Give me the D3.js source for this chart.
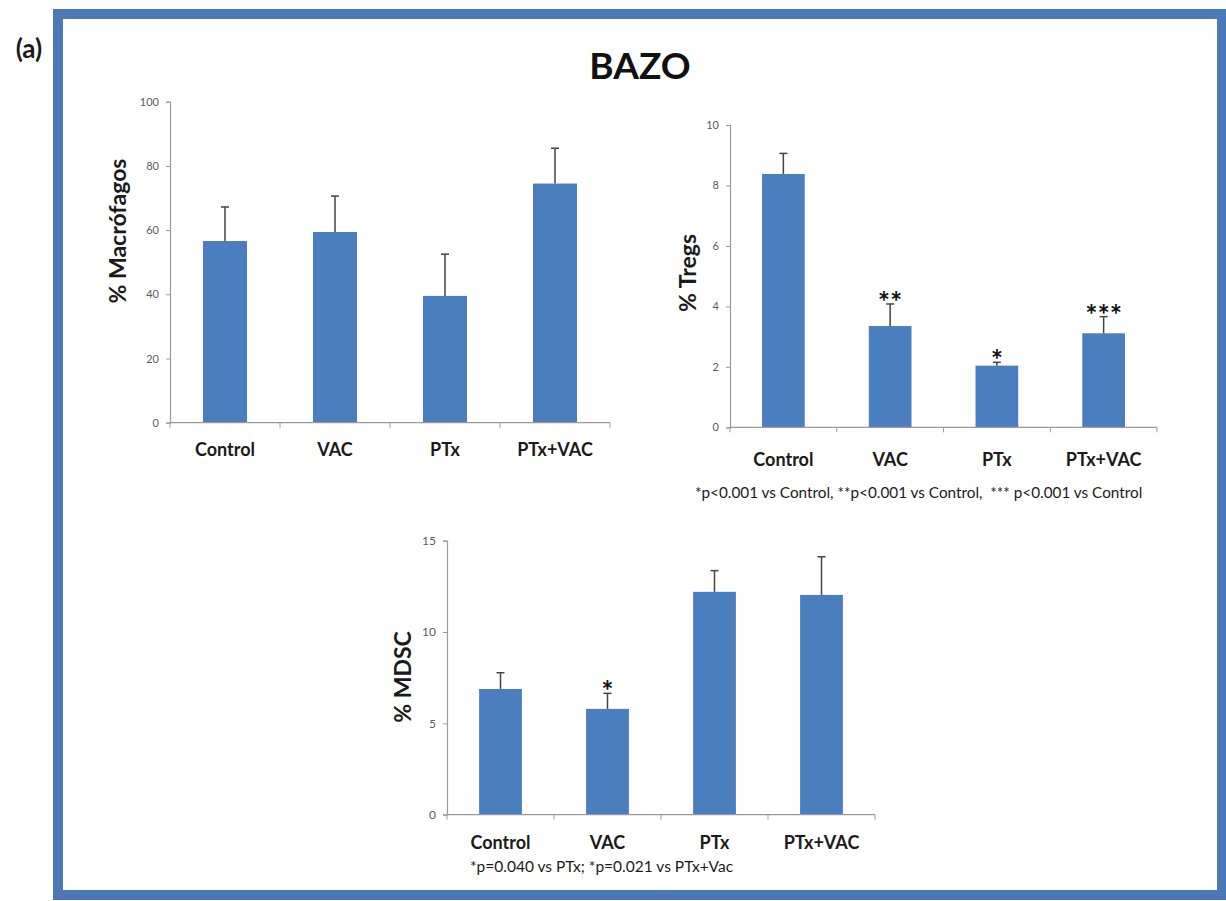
<!DOCTYPE html>
<html>
<head>
<meta charset="utf-8">
<script src="https://cdn.jsdelivr.net/npm/d3@7/dist/d3.min.js"></script>
<style>
  html, body { margin: 0; padding: 0; background: #ffffff; }
  svg { display: block; }
  text { font-family: Lato, "Open Sans", "DejaVu Sans", sans-serif; }
</style>
</head>
<body>
<svg id="chart" width="1226" height="901"></svg>
<script>
// ---------- DATA ----------
const categories = ["Control", "VAC", "PTx", "PTx+VAC"];

const macrofagosMean = [56.6, 59.4, 39.5, 74.5];
const macrofagosErr  = [10.6, 11.2, 13.0, 11.0];
const macrofagosTicks = [0, 20, 40, 60, 80, 100];

const tregsMean = [8.38, 3.35, 2.04, 3.11];
const tregsErr  = [0.68, 0.73, 0.11, 0.55];
const tregsTicks = [0, 2, 4, 6, 8, 10];
const tregsStars = ["", "**", "*", "***"];

const mdscMean = [6.88, 5.79, 12.2, 12.03];
const mdscErr  = [0.89, 0.85, 1.16, 2.09];
const mdscTicks = [0, 5, 10, 15];
const mdscStars = ["", "*", "", ""];

const titleText = "BAZO";
const panelLabel = "(a)";
const tregsNote = "*p<0.001 vs Control, **p<0.001 vs Control,  *** p<0.001 vs Control";
const mdscNote = "*p=0.040 vs PTx; *p=0.021 vs PTx+Vac";

// ---------- DRAW ----------
const svg = d3.select("#chart");
const BAR = "#4a7ebf";
const FRAME = "#4b78b6";

// frame
svg.append("rect").attr("x", 58).attr("y", 14).attr("width", 1164).attr("height", 881)
  .attr("fill", "#ffffff").attr("stroke", FRAME).attr("stroke-width", 10);

svg.append("text").attr("x", 29).attr("y", 58).attr("text-anchor", "middle")
  .attr("font-size", 26).attr("font-weight", "bold").attr("fill", "#1a1a1a").text(panelLabel);

svg.append("text").attr("x", 640).attr("y", 79).attr("text-anchor", "middle")
  .attr("font-size", 37).attr("font-weight", "bold").attr("fill", "#111").text(titleText);

function panel(opt) {
  const x = d3.scaleBand().domain(categories).range([opt.x0, opt.x1])
    .paddingInner(0.6).paddingOuter(0.3);
  const y = d3.scaleLinear().domain([0, opt.max]).range([opt.yBottom, opt.yTop]);
  const g = svg.append("g");

  // y axis
  const yAxis = d3.axisLeft(y).tickValues(opt.ticks).tickSize(4).tickPadding(7);
  const ya = g.append("g").attr("transform", `translate(${opt.x0},0)`).call(yAxis);
  ya.select(".domain").attr("stroke", "#9a9a9a").attr("stroke-width", 1.2);
  ya.selectAll(".tick line").attr("stroke", "#9a9a9a");
  ya.selectAll(".tick text").attr("fill", "#5a5a5a").attr("font-size", opt.tickFont)
    .style("font-family", "Lato, sans-serif");

  // bars
  g.selectAll("rect.bar").data(opt.mean).join("rect").attr("class", "bar")
    .attr("x", (d, i) => x(categories[i]))
    .attr("width", x.bandwidth())
    .attr("y", d => y(d))
    .attr("height", d => y(0) - y(d))
    .attr("fill", BAR);

  // error bars (upper only)
  const cx = i => x(categories[i]) + x.bandwidth() / 2;
  g.selectAll("line.err").data(opt.mean).join("line").attr("class", "err")
    .attr("x1", (d, i) => cx(i)).attr("x2", (d, i) => cx(i))
    .attr("y1", d => y(d)).attr("y2", (d, i) => y(d + opt.err[i]))
    .attr("stroke", "#444").attr("stroke-width", 1.5);
  g.selectAll("line.cap").data(opt.mean).join("line").attr("class", "cap")
    .attr("x1", (d, i) => cx(i) - 4).attr("x2", (d, i) => cx(i) + 4)
    .attr("y1", (d, i) => y(d + opt.err[i])).attr("y2", (d, i) => y(d + opt.err[i]))
    .attr("stroke", "#444").attr("stroke-width", 1.5);

  // x axis line + boundary ticks
  g.append("line").attr("x1", opt.x0).attr("x2", opt.x1)
    .attr("y1", y(0)).attr("y2", y(0)).attr("stroke", "#9a9a9a").attr("stroke-width", 1.2);
  const step = x.step();
  g.selectAll("line.xt").data(d3.range(categories.length + 1)).join("line").attr("class", "xt")
    .attr("x1", i => opt.x0 + i * step).attr("x2", i => opt.x0 + i * step)
    .attr("y1", y(0)).attr("y2", y(0) + 5).attr("stroke", "#9a9a9a");

  // category labels
  g.selectAll("text.cat").data(categories).join("text").attr("class", "cat")
    .attr("x", d => x(d) + x.bandwidth() / 2)
    .attr("y", opt.labelY)
    .attr("text-anchor", "middle").attr("font-size", 18).attr("font-weight", "bold")
    .attr("fill", "#1a1a1a").text(d => d);

  // y title
  g.append("text")
    .attr("transform", `translate(${opt.titleX},${opt.titleY}) rotate(-90)`)
    .attr("text-anchor", "middle").attr("dominant-baseline", "central")
    .attr("font-size", 23).attr("font-weight", "bold").attr("fill", "#1a1a1a").text(opt.title);

  // significance stars
  if (opt.stars) {
    g.selectAll("text.star").data(opt.stars).join("text").attr("class", "star")
      .attr("x", (d, i) => cx(i))
      .attr("y", (d, i) => y(opt.mean[i] + opt.err[i]) - opt.starGap)
      .attr("text-anchor", "middle").attr("font-size", 29).attr("font-weight", "bold")
      .attr("fill", "#111").text(d => d);
  }

  if (opt.note) {
    g.append("text").attr("x", opt.noteX).attr("y", opt.noteY)
      .attr("font-size", opt.noteFont).attr("fill", "#1a1a1a")
      .style("white-space", "pre").text(opt.note);
  }
}

panel({ x0: 170, x1: 610, yBottom: 422.7, yTop: 101.7, max: 100, ticks: macrofagosTicks,
        mean: macrofagosMean, err: macrofagosErr, labelY: 456, title: "% Macrófagos",
        titleX: 117, titleY: 231, tickFont: 11 });

panel({ x0: 730, x1: 1157, yBottom: 427.3, yTop: 125, max: 10, ticks: tregsTicks,
        mean: tregsMean, err: tregsErr, labelY: 466, title: "% Tregs",
        titleX: 687, titleY: 273, tickFont: 11, stars: tregsStars, starGap: -8,
        note: tregsNote, noteX: 695, noteY: 498, noteFont: 15.3 });

panel({ x0: 447, x1: 875, yBottom: 814.6, yTop: 540.7, max: 15, ticks: mdscTicks,
        mean: mdscMean, err: mdscErr, labelY: 849, title: "% MDSC",
        titleX: 402, titleY: 677, tickFont: 12, stars: mdscStars, starGap: -8,
        note: mdscNote, noteX: 470, noteY: 872, noteFont: 15.5 });
</script>
</body>
</html>
